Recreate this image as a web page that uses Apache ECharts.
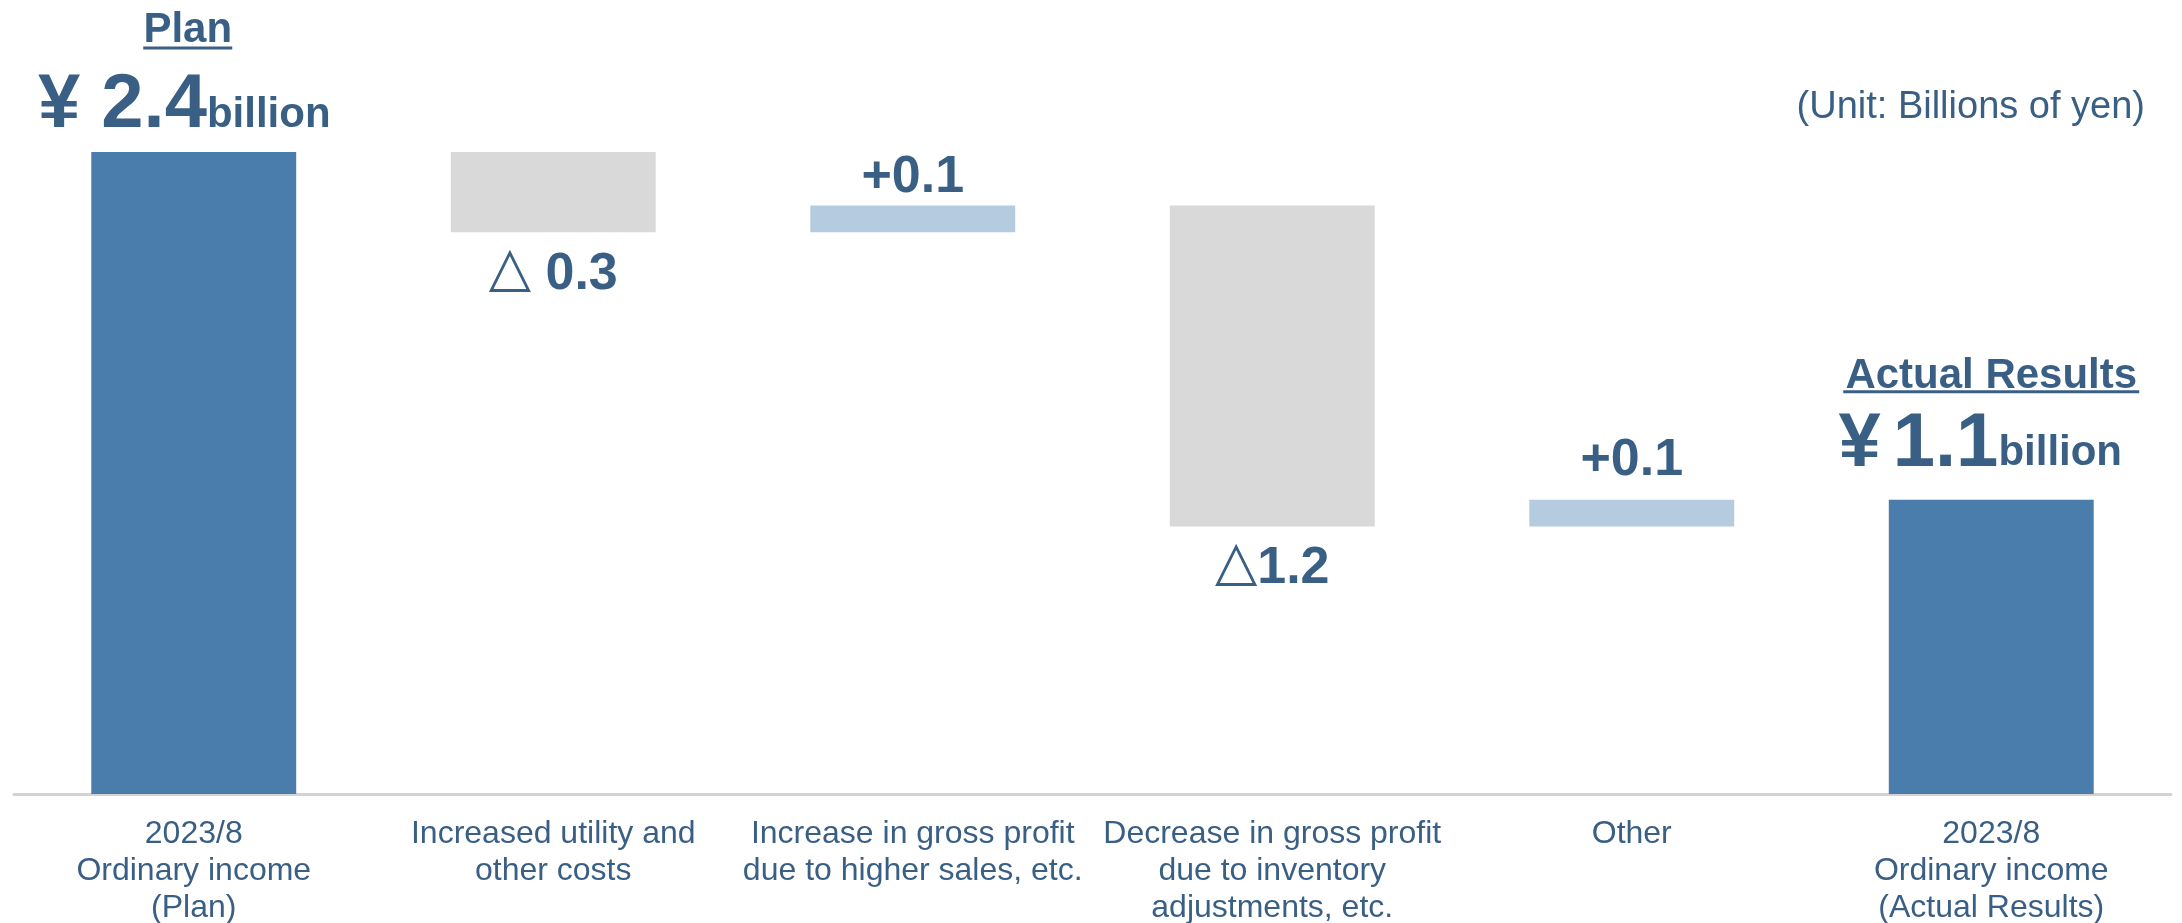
<!DOCTYPE html>
<html>
<head>
<meta charset="utf-8">
<script src="https://cdn.jsdelivr.net/npm/echarts@6/dist/echarts.min.js"></script>
<style>
html,body{margin:0;padding:0;background:#fff;}
#chart{width:2182px;height:923px;}
</style>
</head>
<body>
<div id="chart"></div>
<script>
const categories = [
  '2023/8\nOrdinary income\n(Plan)',
  'Increased utility and\nother costs',
  'Increase in gross profit\ndue to higher sales, etc.',
  'Decrease in gross profit\ndue to inventory\nadjustments, etc.',
  'Other',
  '2023/8\nOrdinary income\n(Actual Results)'
];
const planValue = 2.4;
const changes = [-0.3, 0.1, -1.2, 0.1];
const actualValue = 1.1;
const changeLabels = ['△ 0.3', '+0.1', '△1.2', '+0.1'];
const totalTitles = ['Plan', 'Actual Results'];
const unitText = '(Unit: Billions of yen)';

const TXT = '#3a5f85';
const DARK = '#4a7dab';
const LIGHT = '#b5cbe0';
const GRAY = '#d9d9d9';
const FONT = '"Liberation Sans", Arial, sans-serif';

function totalRich(ulWidth, yenPad, bilPad, titleLH, bigLH) {
  return {
    t: {fontSize: 42, fontWeight: 'bold', color: TXT, fontFamily: FONT, lineHeight: titleLH},
    ul: {width: ulWidth, height: 3, backgroundColor: TXT, lineHeight: 12},
    yen: {fontSize: 76, fontWeight: 'bold', color: TXT, fontFamily: FONT, lineHeight: bigLH, verticalAlign: 'bottom', padding: [0, yenPad, 0, 0]},
    big: {fontSize: 76, fontWeight: 'bold', color: TXT, fontFamily: FONT, lineHeight: bigLH, verticalAlign: 'bottom'},
    bil: {fontSize: 42, fontWeight: 'bold', color: TXT, fontFamily: FONT, lineHeight: bigLH, verticalAlign: 'bottom', padding: [0, bilPad, 8, 0]}
  };
}
const richDelta = {
  tri: {fontSize: 55, fontFamily: '"DejaVu Sans", sans-serif', color: TXT, verticalAlign: 'bottom', lineHeight: 56, padding: [0, 0, 2, 0]},
  num: {fontSize: 52, fontWeight: 'bold', color: TXT, fontFamily: FONT, verticalAlign: 'bottom', lineHeight: 56}
};
// label gap above the small increase bars (by change index)
const incDistance = {1: 2, 3: 13};

// Build waterfall
const baseData = [0];
const valueData = [];
let running = planValue;
valueData.push({
  value: planValue,
  itemStyle: {color: DARK},
  label: {show: true, position: 'top', distance: 8, offset: [-6, 0], rich: totalRich(89, 0, 7, 24, 90),
    formatter: '{t|' + totalTitles[0] + '}\n{ul| }\n{yen|¥ }{big|' + planValue.toFixed(1) + '}{bil|billion}'}
});
changes.forEach((c, i) => {
  const txt = changeLabels[i];
  if (c < 0) {
    running = +(running + c).toFixed(4);
    baseData.push(running);
    valueData.push({
      value: -c,
      itemStyle: {color: GRAY},
      label: {show: true, position: 'bottom', distance: 12, rich: richDelta,
        formatter: '{tri|△}{num|' + txt.replace('△', '') + '}'}
    });
  } else {
    baseData.push(running);
    valueData.push({
      value: c,
      itemStyle: {color: LIGHT},
      label: {show: true, position: 'top', distance: incDistance[i], rich: richDelta,
        formatter: '{num|' + txt + '}'}
    });
    running = +(running + c).toFixed(4);
  }
});
baseData.push(0);
valueData.push({
  value: actualValue,
  itemStyle: {color: DARK},
  label: {show: true, position: 'top', distance: 17, rich: totalRich(296, 12, 22, 18, 85),
    formatter: '{t|' + totalTitles[1] + '}\n{ul| }\n{yen|¥}{big|' + actualValue.toFixed(1) + '}{bil|billion}'}
});

const chart = echarts.init(document.getElementById('chart'), null, {renderer: 'canvas'});
chart.setOption({
  animation: false,
  backgroundColor: '#ffffff',
  title: {
    text: unitText, right: 32, top: 84,
    textStyle: {fontSize: 38, fontWeight: 'normal', color: TXT, fontFamily: FONT}
  },
  grid: {left: 14, right: 11, top: 152, bottom: 129, containLabel: false, outerBoundsMode: 'none'},
  xAxis: {
    type: 'category', data: categories,
    axisLine: {show: true, lineStyle: {color: '#d3d3d3', width: 3}},
    axisTick: {show: false},
    axisLabel: {interval: 0, color: TXT, fontSize: 32, fontFamily: FONT, lineHeight: 37, margin: 22, verticalAlign: 'top'}
  },
  yAxis: {type: 'value', min: 0, max: 2.4, show: false, splitLine: {show: false}},
  series: [
    {type: 'bar', stack: 'w', data: baseData, itemStyle: {color: 'transparent'}, barWidth: '57%', silent: true},
    {type: 'bar', stack: 'w', data: valueData, barWidth: '57%'}
  ]
});
</script>
</body>
</html>
